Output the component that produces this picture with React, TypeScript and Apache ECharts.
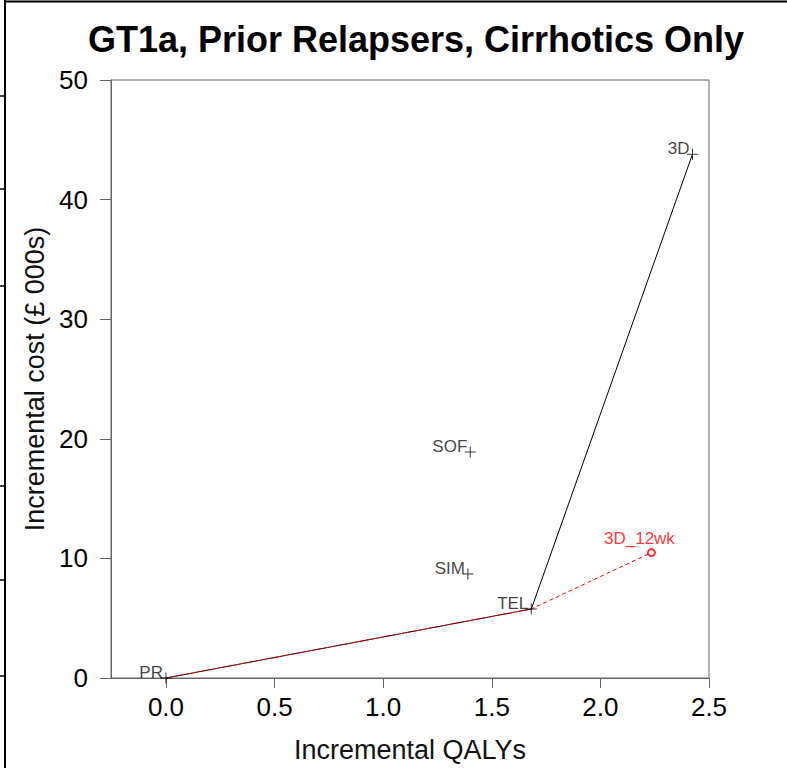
import React, { useEffect, useRef } from "react";
import * as echarts from "echarts";

const strategies = ["PR", "SIM", "SOF", "TEL", "3D"];
const qalys = [0, 1.39, 1.401, 1.682, 2.424];
const costs = [0, 8.7, 18.9, 5.77, 43.8];

const frontierNames = ["PR", "TEL", "3D"];
const altFrontierNames = ["PR", "TEL", "3D_12wk"];

const altName = "3D_12wk";
const altQaly = 2.235;
const altCost = 10.48;

const xTicks = [0, 0.5, 1.0, 1.5, 2.0, 2.5];

const leftFrameTicks = [96, 189, 286, 486, 580, 676];

const FONT = "'Liberation Sans', Arial, sans-serif";

function lookup(name: string): [number, number] {
  if (name === altName) return [altQaly, altCost];
  const i = strategies.indexOf(name);
  return [qalys[i], costs[i]];
}

export default function App() {
  const ref = useRef<HTMLDivElement>(null);
  useEffect(() => {
    document.body.style.margin = "0";
    const chart = echarts.init(ref.current!, null, { renderer: "svg" });
    const crossSize = 11;
    const cross = "path://M0,5H11V6H0Z M5,0H6V11H5Z";
    const option: any = {
      animation: false,
      backgroundColor: "#ffffff",
      title: {
        text: "GT1a, Prior Relapsers, Cirrhotics Only",
        left: 411,
        textAlign: "center",
        top: 16,
        textStyle: { fontFamily: FONT, fontSize: 36, fontWeight: "bold", color: "#000" },
      },
      grid: { left: 111, top: 80, width: 598, height: 598, show: true, borderColor: "#666", borderWidth: 1, backgroundColor: "transparent" },
      xAxis: {
        type: "value",
        min: -0.253,
        max: 2.5,
        name: "Incremental QALYs",
        nameLocation: "middle",
        nameGap: 58,
        nameTextStyle: { fontFamily: FONT, fontSize: 27, color: "#111", verticalAlign: "top" },
        axisLine: { show: true, onZero: false, lineStyle: { color: "#666" } },
        axisTick: { show: true, length: 10, inside: false, customValues: xTicks, lineStyle: { color: "#666" } },
        axisLabel: { customValues: xTicks, fontFamily: FONT, fontSize: 26, color: "#000", margin: 16, formatter: (v: number) => v.toFixed(1) },
        splitLine: { show: false },
      },
      yAxis: {
        type: "value",
        min: 0,
        max: 50,
        interval: 10,
        name: "Incremental cost (£ 000s)",
        nameLocation: "middle",
        nameGap: 62,
        nameTextStyle: { fontFamily: FONT, fontSize: 27, color: "#111" },
        axisLine: { show: true, onZero: false, lineStyle: { color: "#666" } },
        axisTick: { show: true, length: 11, inside: false, lineStyle: { color: "#666" } },
        axisLabel: { fontFamily: FONT, fontSize: 26, color: "#000", margin: 23 },
        splitLine: { show: false },
      },
      series: [
        {
          type: "line",
          data: frontierNames.map(lookup),
          symbol: "none",
          lineStyle: { color: "#000", width: 1 },
          z: 2,
        },
        {
          type: "line",
          data: altFrontierNames.map(lookup),
          symbol: "none",
          lineStyle: { color: "#ff0000", width: 1, type: [4, 3] },
          z: 3,
        },
        {
          type: "scatter",
          data: strategies.map((s, i) => ({ name: s, value: [qalys[i], costs[i]] })),
          symbol: cross,
          symbolSize: crossSize,
          itemStyle: { color: "#000" },
          label: {
            show: true,
            formatter: (p: any) => p.name,
            position: [crossSize / 2 - 3, crossSize / 2 + 3],
            align: "right",
            verticalAlign: "bottom",
            fontFamily: FONT,
            fontSize: 17,
            lineHeight: 17,
            color: "#111",
          },
          z: 4,
        },
        {
          type: "scatter",
          data: [{ name: altName, value: [altQaly, altCost] }],
          symbol: "emptyCircle",
          symbolSize: 7,
          itemStyle: { color: "#ff0000", borderColor: "#ff0000", borderWidth: 1 },
          label: {
            show: true,
            formatter: (p: any) => p.name,
            position: [3.5 - 11, -1],
            align: "center",
            verticalAlign: "bottom",
            fontFamily: FONT,
            fontSize: 17,
            lineHeight: 17,
            color: "#ff0000",
          },
          z: 5,
        },
      ],
      graphic: [
        { type: "line", shape: { x1: 4, y1: 1.5, x2: 787, y2: 1.5 }, style: { stroke: "#000", lineWidth: 2 } },
        { type: "line", shape: { x1: 5, y1: 0, x2: 5, y2: 768 }, style: { stroke: "#000", lineWidth: 2 } },
        ...leftFrameTicks.map((y) => ({
          type: "line",
          shape: { x1: 0, y1: y, x2: 5, y2: y },
          style: { stroke: "#000", lineWidth: 1.5 },
        })),
      ],
    };
    chart.setOption(option);
    return () => chart.dispose();
  }, []);
  return <div ref={ref} style={{ position: "absolute", left: 0, top: 0, width: 787, height: 768 }} />;
}
